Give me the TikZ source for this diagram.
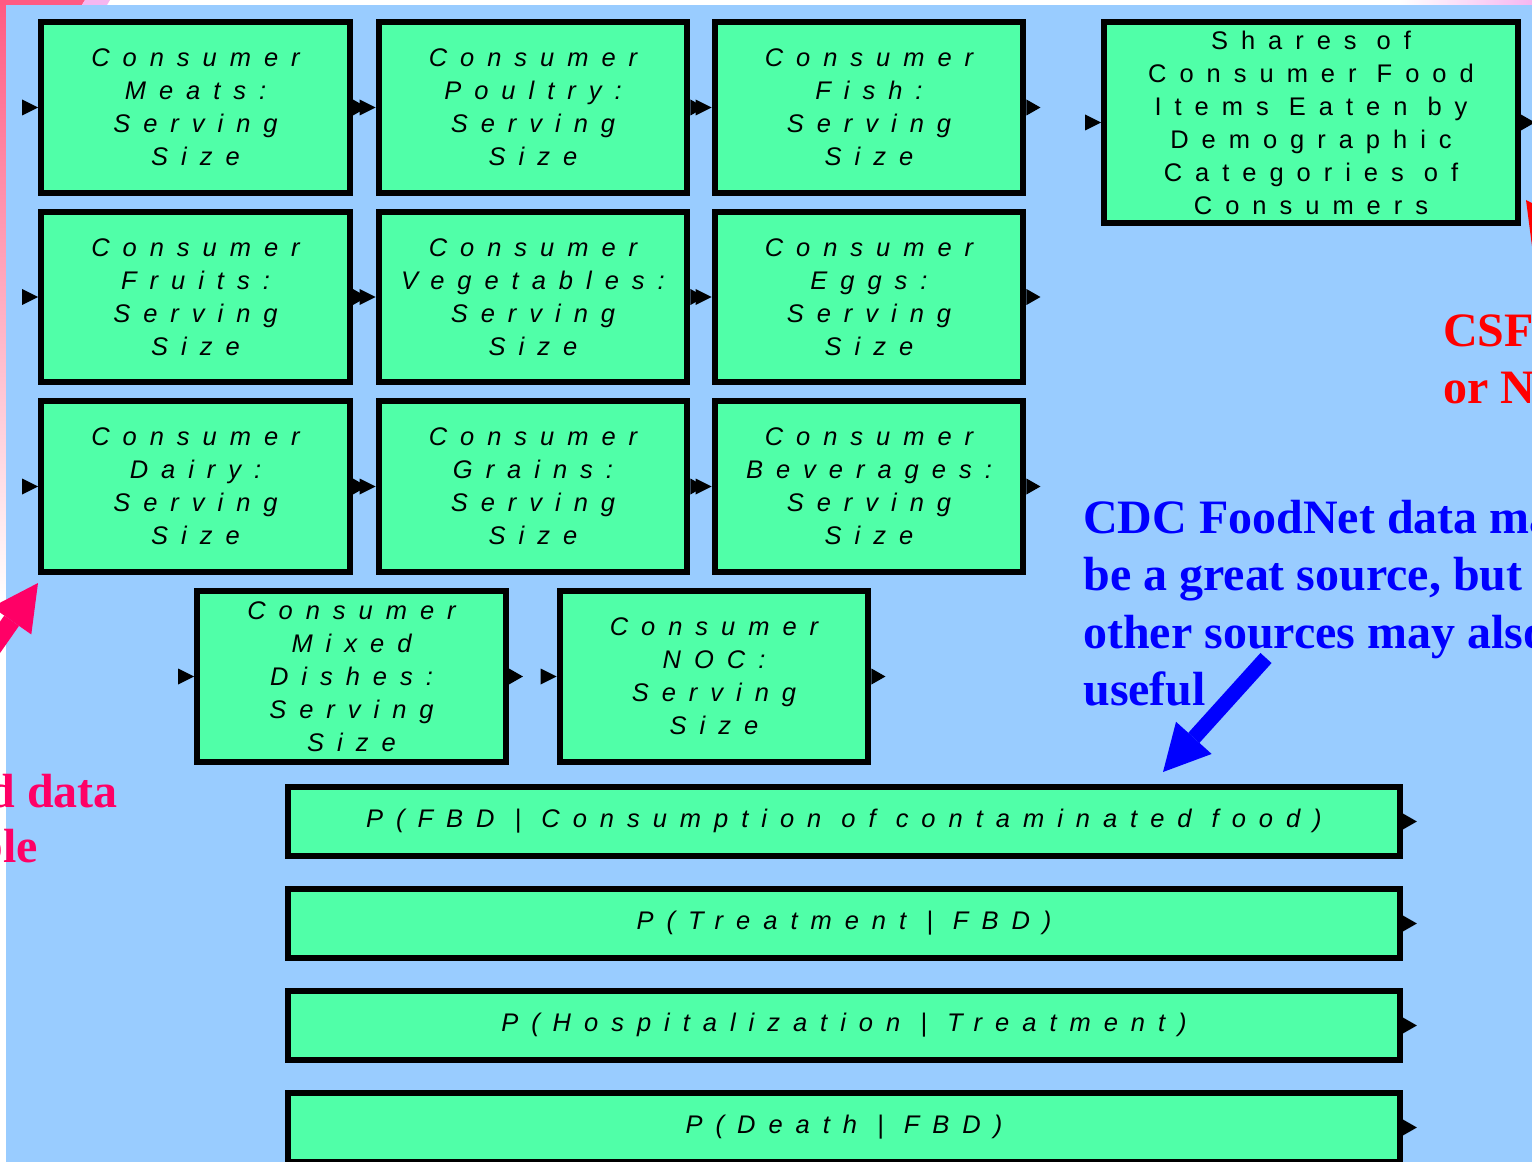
\documentclass[tikz,border=0pt]{standalone}
\usepackage{fontspec}
\usepackage{tikz}
\usetikzlibrary{arrows.meta, calc}
\setmainfont{Liberation Serif}
\newfontfamily\blockfont[LetterSpace=51]{Liberation Sans}

\definecolor{bgblue}{HTML}{99CCFF}
\definecolor{blockgreen}{HTML}{50FFA8}
\definecolor{notepink}{HTML}{FF0066}
\definecolor{stripred}{HTML}{FF5A82}
\definecolor{strippink}{HTML}{F5B6F0}

\begin{document}
\begin{tikzpicture}[
  x=0.02cm, y=-0.02cm,
  block/.style={draw, line width=0.12cm, fill=blockgreen, minimum width=6.18cm,
    minimum height=3.42cm, inner sep=0pt, align=center,
    font={\blockfont\itshape\fontsize{14.5pt}{18.8pt}\selectfont}},
  shareblock/.style={block, minimum width=8.28cm, minimum height=4.02cm,
    font={\blockfont\fontsize{14.5pt}{18.8pt}\selectfont}},
  wideblock/.style={block, minimum width=22.24cm, minimum height=1.38cm},
  note/.style={inner sep=0pt, align=left, font={\bfseries\fontsize{27.3pt}{32.6pt}\selectfont}},
  callout/.style={line width=0.3cm, -{Triangle[length=0.92cm, width=0.96cm, line width=0pt]}}
]
\useasboundingbox (0,0) rectangle (1532,1162);
\clip (0,0) rectangle (1532,1162);

% slide background
\fill[white] (0,0) rectangle (1532,1162);
\shade[top color=stripred, bottom color=white] (0,0) rectangle (6,600);
\fill[stripred] (0,0) -- (85,0) -- (82,5) -- (0,5) -- cycle;
\fill[strippink] (85,0) -- (110,0) -- (107,5) -- (82,5) -- cycle;
\shade[left color=white, right color=strippink] (1400,0) rectangle (1532,5);
\fill[bgblue] (6,5) rectangle (1532,1162);

% serving size blocks
\node[block] (meats) at (195.5,107.5) {Consumer\\Meats:\\Serving\\Size};
\node[block] (poultry) at (533,107.5) {Consumer\\Poultry:\\Serving\\Size};
\node[block] (fish) at (869,107.5) {Consumer\\Fish:\\Serving\\Size};
\node[block] (fruits) at (195.5,297) {Consumer\\Fruits:\\Serving\\Size};
\node[block] (vegetables) at (533,297) {Consumer\\Vegetables:\\Serving\\Size};
\node[block] (eggs) at (869,297) {Consumer\\Eggs:\\Serving\\Size};
\node[block] (dairy) at (195.5,486.5) {Consumer\\Dairy:\\Serving\\Size};
\node[block] (grains) at (533,486.5) {Consumer\\Grains:\\Serving\\Size};
\node[block] (beverages) at (869,486.5) {Consumer\\Beverages:\\Serving\\Size};
\node[block] (mixed) at (351.5,676.5) {Consumer\\Mixed\\Dishes:\\Serving\\Size};
\node[block] (noc) at (714,676.5) {Consumer\\NOC:\\Serving\\Size};

\node[shareblock] (shares) at (1311,122.5)
  {Shares of\\Consumer Food\\Items Eaten by\\Demographic\\Categories of\\Consumers};

% probability blocks
\node[wideblock] (pfbd) at (844,821.5) {P(FBD | Consumption of contaminated food)};
\node[wideblock] (ptreat) at (844,923.5) {P(Treatment | FBD)};
\node[wideblock] (phosp) at (844,1025.5) {P(Hospitalization | Treatment)};
\node[wideblock] (pdeath) at (844,1127.5) {P(Death | FBD)};

% ports
\foreach \b in {meats,poultry,fish,fruits,vegetables,eggs,dairy,grains,beverages,mixed,noc,shares}
  \fill ($(\b.west)+(-16,-8)$) -- ($(\b.west)+(-16,8)$) -- (\b.west) -- cycle;
\foreach \b in {meats,poultry,fish,fruits,vegetables,eggs,dairy,grains,beverages,mixed,noc,shares,pfbd,ptreat,phosp,pdeath}
  \fill ($(\b.east)+(0,-8)$) -- ($(\b.east)+(14,0)$) -- ($(\b.east)+(0,8)$) -- cycle;

% notes
\node[note, text=blue, anchor=north west] (cdcnote) at (1083,500)
  {CDC FoodNet data ma\\be a great source, but\\other sources may also\\useful};
\node[note, text=red, anchor=north west] (csfnote) at (1443,314) {CSF\\or N};
\node[note, text=notepink, anchor=base east] (datanote) at (118,807) {d data};
\node[note, text=notepink, anchor=base east] (blenote) at (38,862) {ble};

\coordinate (cdctail) at (1266,658);
\coordinate (cdctip) at (1163,772);
\coordinate (pinktail) at (-48,706);
\coordinate (pinktip) at (38,583);
\coordinate (redtail) at (1612,323);
\coordinate (redtip) at (1526,200);
\draw[callout, blue] (cdctail) -- (cdctip);
\draw[callout, notepink, line width=0.36cm] (pinktail) -- (pinktip);
\draw[callout, red, line width=0.36cm] (redtail) -- (redtip);
\end{tikzpicture}
\end{document}
